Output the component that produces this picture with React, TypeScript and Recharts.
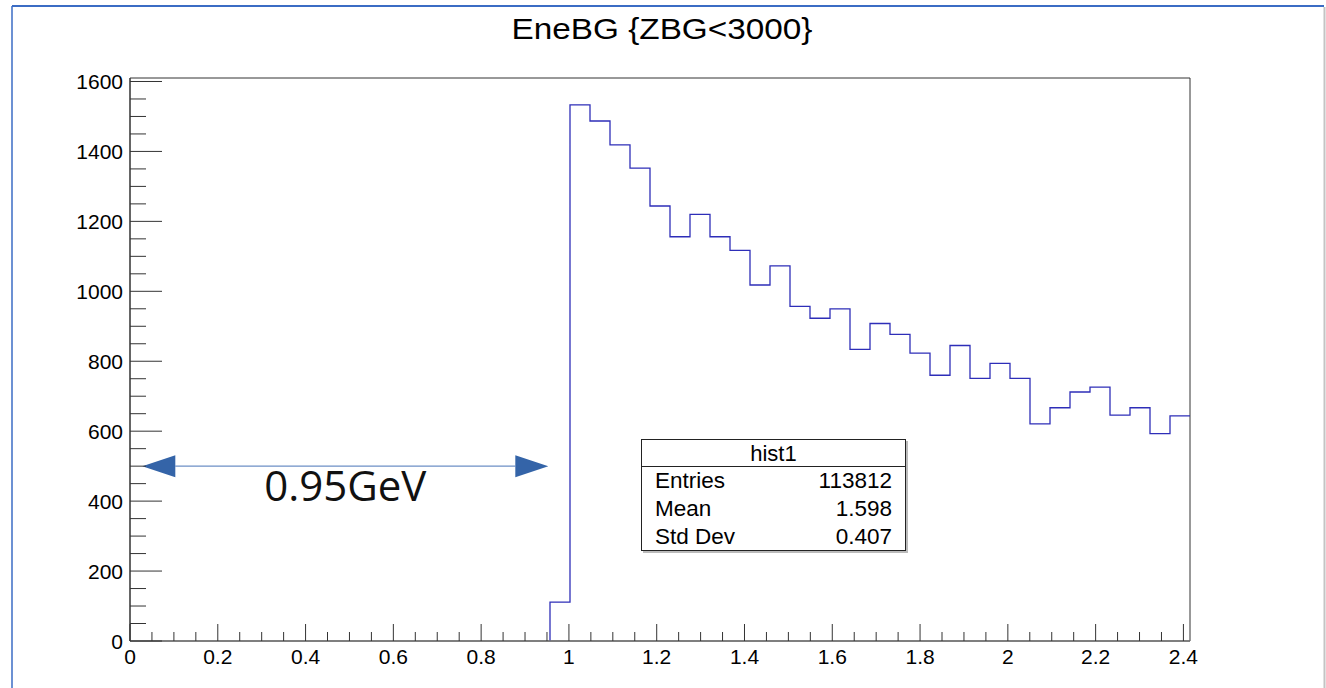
import { LineChart, Line, XAxis, YAxis, ReferenceArea, ReferenceLine } from 'recharts'

const X_MAX = 2.415
const Y_MAX = 1610
const N_BINS = 53

// EneBG counts per bin (first 21 bins are empty)
const binCounts = [
  0, 0, 0, 0, 0, 0, 0, 0, 0, 0,
  0, 0, 0, 0, 0, 0, 0, 0, 0, 0,
  0,
  111, 1533, 1487, 1419, 1352, 1244, 1156, 1220, 1156, 1117,
  1018, 1073, 957, 923, 950, 834, 908, 877, 823, 760,
  845, 751, 794, 751, 621, 667, 712, 726, 646, 667,
  593, 644,
]

const xMajorTicks = [0, 0.2, 0.4, 0.6, 0.8, 1, 1.2, 1.4, 1.6, 1.8, 2, 2.2, 2.4]
const xTickLabels = ['0', '0.2', '0.4', '0.6', '0.8', '1', '1.2', '1.4', '1.6', '1.8', '2', '2.2', '2.4']
const yMajorTicks = [0, 200, 400, 600, 800, 1000, 1200, 1400, 1600]
const yTickLabels = ['0', '200', '400', '600', '800', '1000', '1200', '1400', '1600']

// annotation arrow: start/end in x, height in counts
const arrowX = [0.028, 0.953]
const arrowY = 500
const arrowLabel = '0.95GeV'

const statsRows = [
  ['Entries', '113812'],
  ['Mean', '1.598'],
  ['Std Dev', '0.407'],
]

const binWidth = X_MAX / N_BINS

// outline drawn with stepBefore: start at the lower edge of the first filled bin,
// then one point per upper bin edge
const firstFilled = binCounts.findIndex(c => c > 0)
const histData = [{ x: firstFilled * binWidth, count: 0 }]
for (let i = firstFilled; i < N_BINS; i++) {
  histData.push({ x: (i + 1) * binWidth, count: binCounts[i] })
}

// minor ticks every 0.05 / 50 between the majors
const xTicks: number[] = []
xMajorTicks.forEach((m, i) => {
  xTicks.push(m)
  if (i < xMajorTicks.length - 1) {
    for (let k = 1; k < 4; k++) xTicks.push(Math.round((m + k * 0.05) * 100) / 100)
  }
})
const yTicks: number[] = []
yMajorTicks.forEach((m, i) => {
  yTicks.push(m)
  if (i < yMajorTicks.length - 1) {
    for (let k = 1; k < 4; k++) yTicks.push(m + k * 50)
  }
})

const FONT = '"Liberation Sans", Arial, Helvetica, sans-serif'
const AXIS = '#333'

const XTick = ({ x, y, payload }: any) => {
  const idx = xMajorTicks.findIndex(m => Math.abs(m - payload.value) < 1e-6)
  const major = idx >= 0
  return (
    <g>
      <line x1={x} x2={x} y1={y} y2={y - (major ? 17 : 9)} stroke={AXIS} strokeWidth={1} />
      {major && (
        <text x={x} y={y + 23} textAnchor="middle" fontSize={21} fontFamily={FONT} fill="#000">
          {xTickLabels[idx]}
        </text>
      )}
    </g>
  )
}

const YTick = ({ x, y, payload }: any) => {
  const idx = yMajorTicks.indexOf(payload.value)
  const major = idx >= 0
  return (
    <g>
      <line x1={x} x2={x + (major ? 32 : 16)} y1={y} y2={y} stroke={AXIS} strokeWidth={1} />
      {major && (
        <text x={x - 7} y={y + 7.5} textAnchor="end" fontSize={21} fontFamily={FONT} fill="#000">
          {yTickLabels[idx]}
        </text>
      )}
    </g>
  )
}

const DoubleArrow = (props: any) => {
  const { x1, y1, x2 } = props
  const head = 33
  const half = 11
  const fill = '#3464a8'
  return (
    <g>
      <line x1={x1 + head} x2={x2 - head} y1={y1} y2={y1} stroke="#6d8fc6" strokeWidth={1.2} />
      <polygon points={`${x1},${y1} ${x1 + head},${y1 - half} ${x1 + head},${y1 + half}`} fill={fill} />
      <polygon points={`${x2},${y1} ${x2 - head},${y1 - half} ${x2 - head},${y1 + half}`} fill={fill} />
      <text
        x={(x1 + x2) / 2}
        y={y1 + 35}
        textAnchor="middle"
        fontSize={42}
        fontFamily='"Open Sans", "Noto Sans", sans-serif'
        fill="#111"
      >
        {arrowLabel}
      </text>
    </g>
  )
}

export default function App() {
  return (
    <div style={{ position: 'absolute', left: 0, top: 0, width: 1326, height: 688, background: '#fff', overflow: 'hidden' }}>
      <svg width={1326} height={688} style={{ position: 'absolute', left: 0, top: 0 }}>
        <line x1={12} x2={1324} y1={6} y2={6} stroke="#3b6cc4" strokeWidth={2} />
        <line x1={12} x2={12} y1={6} y2={688} stroke="#3b6cc4" strokeWidth={1.5} />
        <line x1={1324.5} x2={1324.5} y1={7} y2={688} stroke="#c4c4c4" strokeWidth={2} />
        <text
          x={662}
          y={39}
          textAnchor="middle"
          fontSize={30}
          textLength={301}
          lengthAdjust="spacingAndGlyphs"
          fontFamily={FONT}
          fill="#000"
        >
          EneBG {'{'}ZBG&lt;3000{'}'}
        </text>
      </svg>
      <div style={{ position: 'absolute', left: 0, top: 0 }}>
        <LineChart width={1326} height={688} data={histData} margin={{ top: 78, right: 136, bottom: 46, left: 129 }}>
          <ReferenceArea x1={0} x2={X_MAX} y1={0} y2={Y_MAX} fill="none" stroke={AXIS} strokeWidth={1} />
          <Line
            type="stepBefore"
            dataKey="count"
            stroke="#2e2eb8"
            strokeWidth={1.3}
            dot={false}
            activeDot={false}
            isAnimationActive={false}
          />
          <XAxis
            dataKey="x"
            type="number"
            domain={[0, X_MAX]}
            ticks={xTicks}
            interval={0}
            height={1}
            tickSize={0}
            tickMargin={0}
            tickLine={false}
            axisLine={{ stroke: '#777', strokeWidth: 1.5 }}
            tick={XTick}
            allowDataOverflow
          />
          <YAxis
            type="number"
            domain={[0, Y_MAX]}
            ticks={yTicks}
            interval={0}
            width={1}
            tickSize={0}
            tickMargin={0}
            tickLine={false}
            axisLine={{ stroke: AXIS, strokeWidth: 1 }}
            tick={YTick}
            allowDataOverflow
          />
          <ReferenceLine
            segment={[{ x: arrowX[0], y: arrowY }, { x: arrowX[1], y: arrowY }]}
            shape={DoubleArrow}
          />
        </LineChart>
      </div>
      <div
        style={{
          position: 'absolute',
          left: 641,
          top: 439,
          width: 263,
          height: 110,
          border: '1px solid #222',
          boxShadow: '2px 2px 0 #bbb',
          background: '#fff',
          fontFamily: FONT,
          fontSize: 22.5,
          color: '#000',
        }}
      >
        <div style={{ height: 26, borderBottom: '1px solid #222', textAlign: 'center', lineHeight: '27px', fontSize: 22 }}>hist1</div>
        {statsRows.map(([k, v]) => (
          <div key={k} style={{ display: 'flex', justifyContent: 'space-between', padding: '0 13px 0 13px', height: 28, lineHeight: '28px' }}>
            <span>{k}</span>
            <span>{v}</span>
          </div>
        ))}
      </div>
    </div>
  )
}
